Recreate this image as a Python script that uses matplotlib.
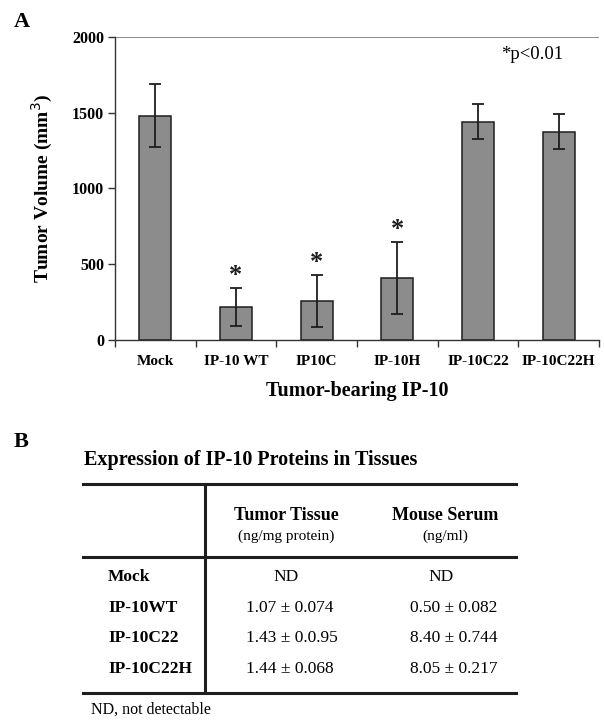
import numpy as np
import matplotlib.pyplot as plt

plt.rcParams['font.family'] = ['Liberation Serif', 'DejaVu Serif']

# Panel A data
groups = ['Mock', 'IP-10 WT', 'IP10C', 'IP-10H', 'IP-10C22', 'IP-10C22H']
volume = [1480, 220, 258, 408, 1440, 1372]
volume_err = [205, 125, 170, 238, 115, 115]
significant = [False, True, True, True, False, False]

# Panel B table data
row_names = ['Mock', 'IP-10WT', 'IP-10C22', 'IP-10C22H']
tissue_vals = ['ND', '1.07 \u00b1 0.074', '1.43 \u00b1 0.0.95', '1.44 \u00b1 0.068']
serum_vals = ['ND', '0.50 \u00b1 0.082', '8.40 \u00b1 0.744', '8.05 \u00b1 0.217']

W, H = 604, 723
fig = plt.figure(figsize=(W / 100, H / 100), dpi=100)

# ---- panel A ----
ax = fig.add_axes([115 / W, 1 - 340 / H, 484 / W, (340 - 36.7) / H])
x = np.arange(len(groups))
ax.bar(x, volume, width=0.4, color='#8c8c8c', edgecolor='#1e1e1e', linewidth=1.1, zorder=2)
ax.errorbar(x, volume, yerr=volume_err, fmt='none', ecolor='#1e1e1e',
            elinewidth=1.3, capsize=4, capthick=1.3, zorder=3)
for i in range(len(groups)):
    if significant[i]:
        ax.text(x[i], volume[i] + volume_err[i] + 5, '*', ha='center', va='bottom',
                fontsize=19, fontweight='bold', color='#1e1e1e')

ax.set_xlim(-0.5, len(groups) - 0.5)
ax.set_ylim(0, 2000)
ax.set_yticks([0, 500, 1000, 1500, 2000])
ax.set_yticklabels(['0', '500', '1000', '1500', '2000'], fontweight='bold', fontsize=11.5)
ax.set_xticks(x)
ax.set_xticklabels(groups, fontweight='bold', fontsize=11)
ax.set_xticks(np.arange(-0.5, len(groups) + 0.5, 1), minor=True)
ax.tick_params(axis='x', which='major', length=0, pad=11)
ax.tick_params(axis='x', which='minor', length=5, width=1, direction='out', color='#333333')
ax.tick_params(axis='y', length=5, width=1, color='#333333', pad=3)
ax.axhline(2000, color='#777777', linewidth=1.2, zorder=1)
for s in ['top', 'right']:
    ax.spines[s].set_visible(False)
for s in ['left', 'bottom']:
    ax.spines[s].set_color('#333333')
    ax.spines[s].set_linewidth(1.0)
ax.set_ylabel('Tumor Volume (mm$^3$)', fontweight='bold', fontsize=14, labelpad=12)
ax.set_xlabel('Tumor-bearing IP-10', fontweight='bold', fontsize=14.5, labelpad=9)
ax.text(0.926, 0.94, '*p<0.01', transform=ax.transAxes, ha='right', va='center', fontsize=13.5)

# ---- panel B (drawn in pixel coordinates on an overlay) ----
ov = fig.add_axes([0, 0, 1, 1])
ov.set_xlim(0, W)
ov.set_ylim(H, 0)
ov.axis('off')

ov.text(14, 22, 'A', fontsize=16, fontweight='bold', va='center')
ov.text(14, 442, 'B', fontsize=16, fontweight='bold', va='center')
ov.text(84, 460, 'Expression of IP-10 Proteins in Tissues', fontsize=14.5,
        fontweight='bold', va='center')

lw = 2.2
ov.plot([83, 516], [484, 484], color='#1e1e1e', linewidth=lw)
ov.plot([83, 516], [557, 557], color='#1e1e1e', linewidth=lw)
ov.plot([83, 516], [693, 693], color='#1e1e1e', linewidth=lw)
ov.plot([205, 205], [484, 693], color='#1e1e1e', linewidth=lw)

ov.text(286, 516, 'Tumor Tissue', fontsize=13, fontweight='bold', ha='center', va='center')
ov.text(286, 536, '(ng/mg protein)', fontsize=11, ha='center', va='center')
ov.text(445, 516, 'Mouse Serum', fontsize=13, fontweight='bold', ha='center', va='center')
ov.text(445, 536, '(ng/ml)', fontsize=11, ha='center', va='center')

row_y = [577, 608, 638, 669]
for i in range(len(row_names)):
    ov.text(108, row_y[i], row_names[i], fontsize=12.5, fontweight='bold', va='center')
    if tissue_vals[i] == 'ND':
        ov.text(286, row_y[i], tissue_vals[i], fontsize=12.5, ha='center', va='center')
    else:
        ov.text(246, row_y[i], tissue_vals[i], fontsize=12.5, va='center')
    if serum_vals[i] == 'ND':
        ov.text(441, row_y[i], serum_vals[i], fontsize=12.5, ha='center', va='center')
    else:
        ov.text(410, row_y[i], serum_vals[i], fontsize=12.5, va='center')

ov.text(91, 710, 'ND, not detectable', fontsize=11.5, va='center')

fig.savefig('out.png', dpi=100)
